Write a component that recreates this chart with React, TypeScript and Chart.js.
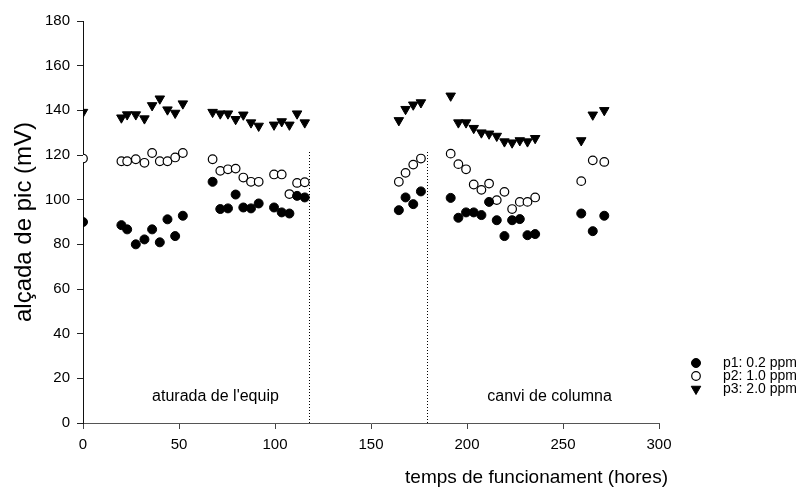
import { useEffect, useRef } from "react";
import { Chart, registerables } from "chart.js";

Chart.register(...registerables);

// Running time (hours) at which each injection was measured
const hours = [
  0, 20, 23, 27.5, 32, 36, 40, 44, 48, 52,
  67.5, 71.5, 75.5, 79.5, 83.5, 87.5, 91.5, 99.5, 103.5, 107.5, 111.5, 115.5,
  164.5, 168, 172, 176,
  191.5, 195.5, 199.5, 203.5, 207.5, 211.5, 215.5, 219.5, 223.5, 227.5, 231.5, 235.5,
  259.5, 265.5, 271.5,
];

// Peak height (mV) for each standard
const p1 = [
  90, 88.6, 86.7, 80, 82.2, 86.7, 80.9, 91.2, 83.7, 92.8,
  108, 95.8, 96.1, 102.3, 96.5, 96.1, 98.3, 96.5, 94.3, 93.8, 101.7, 101,
  95.3, 101, 98, 103.7,
  100.8, 91.9, 94.3, 94.3, 93.1, 99, 90.8, 83.7, 90.8, 91.3, 84.1, 84.6,
  93.8, 85.9, 92.8,
];
const p2 = [
  118.4, 117.2, 117.2, 118.1, 116.5, 120.9, 117.2, 117.2, 118.9, 120.9,
  118.1, 112.9, 113.6, 113.9, 109.9, 108, 108, 111.3, 111.3, 102.5, 107.5, 107.8,
  108, 112, 115.7, 118.4,
  120.6, 115.9, 113.6, 106.8, 104.4, 107.2, 99.8, 103.5, 95.8, 99, 99, 101,
  108.3, 117.6, 116.9,
];
const p3 = [
  139.2, 136.7, 138.1, 138.1, 136.3, 142.2, 145.2, 140.3, 138.8, 143,
  139.2, 138.5, 138.5, 136, 138, 134.5, 133, 133.5, 135, 133.5, 138.5, 134.5,
  135.5, 140.5, 142.5, 143.5,
  146.5, 134.5, 134.5, 132, 130, 129.5, 128.5, 126, 125.5, 126.5, 126, 127.5,
  126.5, 138, 140,
];

const seriesLabels = ["p1: 0.2 ppm", "p2: 1.0 ppm", "p3: 2.0 ppm"];

// Events marked with vertical dotted lines (hours) and their captions
const eventHours = [117.5, 179];
const eventTop = 122;
const captions = ["aturada de l'equip", "canvi de columna"];
const captionHours = [69, 243];
const captionLevel = 12;

const xTicks = [0, 300, 50];
const yTicks = [0, 180, 20];
const xTitle = "temps de funcionament (hores)";
const yTitle = "alçada de pic (mV)";

const FONT = "Arial, 'Liberation Sans', sans-serif";

const pts = (ys: number[]) => hours.map((h, i) => ({ x: h, y: ys[i] }));

const eventsPlugin = {
  id: "events",
  afterDatasetsDraw(chart: any) {
    const { ctx, scales } = chart;
    const x = scales.x;
    const y = scales.y;
    ctx.save();
    ctx.strokeStyle = "#000";
    ctx.lineWidth = 1;
    ctx.setLineDash([1, 2]);
    eventHours.forEach((h) => {
      const px = Math.round(x.getPixelForValue(h)) + 0.5;
      ctx.beginPath();
      ctx.moveTo(px, y.getPixelForValue(0));
      ctx.lineTo(px, y.getPixelForValue(eventTop));
      ctx.stroke();
    });
    ctx.setLineDash([]);
    ctx.fillStyle = "#000";
    ctx.font = `16px ${FONT}`;
    ctx.textAlign = "center";
    ctx.textBaseline = "middle";
    captions.forEach((t, i) => {
      ctx.fillText(t, x.getPixelForValue(captionHours[i]), y.getPixelForValue(captionLevel));
    });
    ctx.restore();
  },
};

// x-axis title, right-aligned slightly past the end of the axis
const xTitlePlugin = {
  id: "xTitle",
  afterDraw(chart: any) {
    const { ctx, chartArea } = chart;
    ctx.save();
    ctx.fillStyle = "#000";
    ctx.font = `19px ${FONT}`;
    ctx.textAlign = "right";
    ctx.textBaseline = "middle";
    ctx.fillText(xTitle, chartArea.right + 9, chartArea.bottom + 55);
    ctx.restore();
  },
};

const legendPlugin = {
  id: "sideLegend",
  afterDraw(chart: any) {
    const { ctx } = chart;
    const markerX = 696;
    const textX = 723;
    const rowY = [363, 376, 389];
    ctx.save();
    chart.data.datasets.forEach((ds: any, i: number) => {
      ctx.save();
      ctx.translate(markerX, rowY[i]);
      ctx.fillStyle = ds.pointBackgroundColor;
      ctx.strokeStyle = ds.pointBorderColor;
      ctx.lineWidth = ds.pointBorderWidth;
      const r = ds.pointRadius;
      ctx.beginPath();
      if (ds.pointStyle === "triangle") {
        // downward-pointing triangle, same as the plotted marker
        ctx.moveTo(0, r);
        ctx.lineTo(r * Math.sin(Math.PI / 3), -r * 0.5);
        ctx.lineTo(-r * Math.sin(Math.PI / 3), -r * 0.5);
        ctx.closePath();
      } else {
        ctx.arc(0, 0, r, 0, Math.PI * 2);
      }
      ctx.fill();
      ctx.stroke();
      ctx.restore();
      ctx.fillStyle = "#000";
      ctx.font = `14px ${FONT}`;
      ctx.textAlign = "left";
      ctx.textBaseline = "middle";
      ctx.fillText(ds.label, textX, rowY[i]);
    });
    ctx.restore();
  },
};

export default function App() {
  const ref = useRef<HTMLCanvasElement>(null);

  useEffect(() => {
    if (!ref.current) return;
    const chart = new Chart(ref.current, {
      type: "scatter",
      data: {
        datasets: [
          {
            label: seriesLabels[0],
            data: pts(p1),
            pointStyle: "circle",
            pointRadius: 4.5,
            pointBackgroundColor: "#000",
            pointBorderColor: "#000",
            pointBorderWidth: 1,
            pointRotation: 0,
          },
          {
            label: seriesLabels[1],
            data: pts(p2),
            pointStyle: "circle",
            pointRadius: 4.3,
            pointBackgroundColor: "#fff",
            pointBorderColor: "#000",
            pointBorderWidth: 1.2,
            pointRotation: 0,
          },
          {
            label: seriesLabels[2],
            data: pts(p3),
            pointStyle: "triangle",
            pointRadius: 5.5,
            pointBackgroundColor: "#000",
            pointBorderColor: "#000",
            pointBorderWidth: 1,
            pointRotation: 180,
          },
        ] as any,
      },
      options: {
        responsive: false,
        animation: false,
        devicePixelRatio: 1,
        layout: { padding: { top: 21, right: 149, bottom: 0, left: 0 } },
        plugins: {
          legend: { display: false },
          tooltip: { enabled: false },
        },
        scales: {
          x: {
            type: "linear",
            min: xTicks[0],
            max: xTicks[1],
            afterFit: (s: any) => {
              s.height = 67;
            },
            ticks: {
              stepSize: xTicks[2],
              color: "#000",
              font: { size: 15, family: FONT },
              padding: 7,
              maxRotation: 0,
            },
            grid: {
              drawOnChartArea: false,
              drawTicks: true,
              tickLength: 6,
              tickColor: "#444",
            },
            border: { display: true, color: "#555", width: 1 },
            title: { display: false },
          },
          y: {
            type: "linear",
            min: yTicks[0],
            max: yTicks[1],
            afterFit: (s: any) => {
              s.width = 83;
            },
            ticks: {
              stepSize: yTicks[2],
              color: "#000",
              font: { size: 15, family: FONT },
              padding: 7,
            },
            grid: {
              drawOnChartArea: false,
              drawTicks: true,
              tickLength: 6,
              tickColor: "#222",
            },
            border: { display: true, color: "#111", width: 1 },
            title: {
              display: true,
              text: yTitle,
              color: "#000",
              font: { size: 24, family: FONT },
              padding: { top: 10, bottom: 0 },
            },
          },
        },
      } as any,
      plugins: [eventsPlugin, xTitlePlugin, legendPlugin],
    });
    return () => chart.destroy();
  }, []);

  return (
    <div style={{ position: "absolute", left: 0, top: 0, width: 808, height: 490, background: "#fff" }}>
      <canvas ref={ref} width={808} height={490} />
    </div>
  );
}
